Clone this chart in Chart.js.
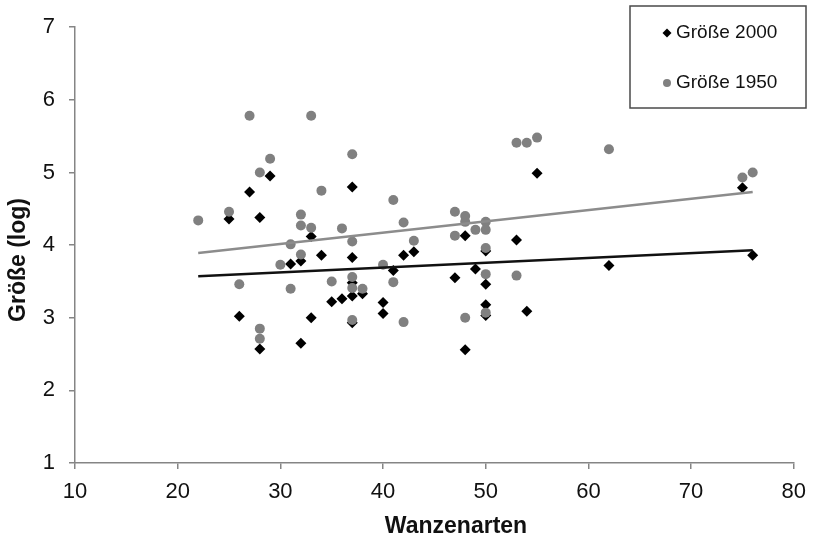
<!DOCTYPE html>
<html>
<head>
<meta charset="utf-8">
<script src="https://cdn.jsdelivr.net/npm/chart.js@4.4.0/dist/chart.umd.min.js"></script>
<style>
  html, body { margin: 0; padding: 0; background: #fff; }
  #wrap { width: 816px; height: 539px; position: relative; }
</style>
</head>
<body>
<div id="wrap"><canvas id="chart" width="816" height="539"></canvas></div>
<script>
// ======== Daten ========
const x2000 = [29, 27, 37, 25, 28, 33, 34, 37, 31, 32, 37, 37, 38, 35, 36, 26, 33, 37, 28, 32,
               55, 48, 53, 43, 42, 50, 41, 47, 49, 50, 40, 40, 50, 50, 54, 48, 75, 62, 76];
const y2000 = [4.95, 4.73, 4.80, 4.36, 4.38, 4.12, 3.86, 3.83, 3.74, 3.78, 3.48, 3.30, 3.33, 3.22, 3.26, 3.02, 3.00, 2.93, 2.57, 2.65,
               4.99, 4.13, 4.07, 3.91, 3.86, 3.92, 3.65, 3.55, 3.67, 3.46, 3.21, 3.06, 3.18, 3.03, 3.09, 2.56, 4.79, 3.72, 3.86];

const x1950 = [27, 33, 29, 37, 28, 34, 25, 22, 32, 32, 33, 36, 37, 31, 32, 30, 26, 31, 35, 37, 37, 38, 37, 28, 28,
               53, 54, 55, 41, 47, 48, 48, 42, 50, 49, 50, 47, 43, 50, 40, 41, 50, 53, 42, 48, 50, 62, 75, 76];
const y1950 = [5.78, 5.78, 5.19, 5.25, 5.00, 4.75, 4.46, 4.34, 4.42, 4.27, 4.24, 4.23, 4.05, 4.01, 3.87, 3.73, 3.46, 3.40, 3.50, 3.56, 3.41, 3.40, 2.97, 2.85, 2.71,
               5.41, 5.41, 5.48, 4.62, 4.46, 4.40, 4.32, 4.31, 4.32, 4.21, 4.21, 4.13, 4.06, 3.96, 3.73, 3.49, 3.60, 3.58, 2.94, 3.00, 3.07, 5.32, 4.93, 5.00];

// Trendlinien (Endpunkte aus dem Bild)
const trendX = [22, 76];
const trend2000 = [3.57, 3.93];
const trend1950 = [3.89, 4.73];

const xTicks = [10, 20, 30, 40, 50, 60, 70, 80];
const yTicks = [1, 2, 3, 4, 5, 6, 7];

const labels = ['Größe 2000', 'Größe 1950'];
const xTitle = 'Wanzenarten';
const yTitle = 'Größe (log)';

const FONT = '"Liberation Sans", Arial, sans-serif';
const AXIS = '#858585';

function pts(xs, ys) {
  return xs.map((x, i) => ({ x, y: ys[i] }));
}

// ======== Legende + Achsentitel ========
const extras = {
  id: 'extras',
  afterDraw(chart) {
    const ctx = chart.ctx;
    ctx.save();

    // Achsentitel
    ctx.fillStyle = '#111';
    ctx.font = 'bold 23px ' + FONT;
    ctx.textAlign = 'center';
    ctx.textBaseline = 'middle';
    ctx.fillText(xTitle, 456, 527);
    ctx.save();
    ctx.translate(19, 260);
    ctx.rotate(-Math.PI / 2);
    ctx.fillText(yTitle, 0, 0);
    ctx.restore();

    // Legende
    ctx.fillStyle = '#fff';
    ctx.fillRect(630, 6, 176, 102);
    ctx.strokeStyle = '#4a4a4a';
    ctx.lineWidth = 1.5;
    ctx.strokeRect(630, 6, 176, 102);

    ctx.fillStyle = '#000';
    ctx.beginPath();
    ctx.moveTo(667, 28.5); ctx.lineTo(671.5, 33); ctx.lineTo(667, 37.5); ctx.lineTo(662.5, 33);
    ctx.closePath();
    ctx.fill();

    ctx.fillStyle = '#808080';
    ctx.beginPath();
    ctx.arc(667, 83, 4, 0, Math.PI * 2);
    ctx.fill();

    ctx.fillStyle = '#111';
    ctx.font = '19px ' + FONT;
    ctx.textAlign = 'left';
    ctx.fillText(labels[0], 676, 33);
    ctx.fillText(labels[1], 676, 83);

    ctx.restore();
  }
};

new Chart(document.getElementById('chart'), {
  type: 'scatter',
  data: {
    datasets: [
      {
        label: labels[0] + ' Trend',
        data: pts(trendX, trend2000),
        showLine: true,
        borderColor: '#111',
        borderWidth: 2.5,
        pointRadius: 0,
        order: 1
      },
      {
        label: labels[1] + ' Trend',
        data: pts(trendX, trend1950),
        showLine: true,
        borderColor: '#8c8c8c',
        borderWidth: 2.5,
        pointRadius: 0,
        order: 2
      },
      {
        label: labels[1],
        data: pts(x1950, y1950),
        pointStyle: 'circle',
        pointRadius: 5,
        backgroundColor: '#808080',
        borderWidth: 0,
        order: 3
      },
      {
        label: labels[0],
        data: pts(x2000, y2000),
        pointStyle: 'rectRot',
        pointRadius: 5.5,
        backgroundColor: '#000',
        borderWidth: 0,
        order: 4
      }
    ]
  },
  options: {
    responsive: false,
    animation: false,
    layout: { padding: { left: 0, top: 22, right: 14, bottom: 0 } },
    plugins: { legend: { display: false }, tooltip: { enabled: false } },
    scales: {
      x: {
        type: 'linear',
        min: 10, max: 80,
        afterBuildTicks(scale) { scale.ticks = xTicks.map(v => ({ value: v })); },
        afterFit(scale) { scale.height = 76; },
        ticks: { color: '#111', font: { family: FONT, size: 22 }, padding: 10, maxRotation: 0 },
        grid: { drawOnChartArea: false, drawTicks: true, tickLength: 6, color: AXIS, lineWidth: 1.5 },
        border: { color: AXIS, width: 1.5 }
      },
      y: {
        type: 'linear',
        min: 1, max: 7,
        afterBuildTicks(scale) { scale.ticks = yTicks.map(v => ({ value: v })); },
        afterFit(scale) { scale.width = 75; },
        ticks: { color: '#111', font: { family: FONT, size: 22 }, padding: 14 },
        grid: { drawOnChartArea: false, drawTicks: true, tickLength: 6, color: AXIS, lineWidth: 1.5 },
        border: { color: AXIS, width: 1.5 }
      }
    }
  },
  plugins: [extras]
});
</script>
</body>
</html>
